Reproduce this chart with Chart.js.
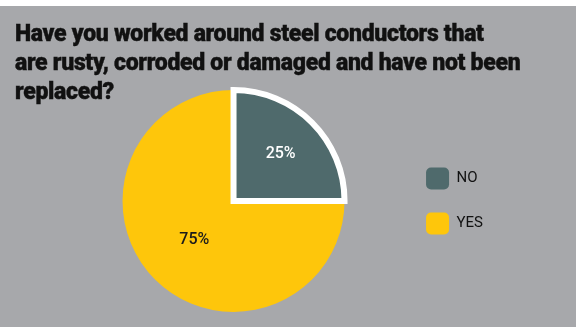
<!DOCTYPE html>
<html lang="en">
<head>
  <meta charset="UTF-8">
  <title>Steel conductors survey</title>
  <script src="https://cdn.jsdelivr.net/npm/chart.js@4.4.1/dist/chart.umd.min.js"></script>
  <style>
    body { margin: 0; background: #ffffff; }
    .panel { position: relative; width: 576px; height: 321px; margin-top: 6px; background: #a7a8ab; overflow: hidden; }
    .panel h1 {
      position: absolute; left: 15px; top: 13px; margin: 0;
      font-family: Roboto, "Noto Sans", sans-serif; font-weight: 900;
      font-size: 23px; line-height: 29px; letter-spacing: -0.3px; color: #111111;
      -webkit-text-stroke: 0.4px #111111;
      z-index: 1;
    }
    .panel canvas { position: absolute; left: 0; top: 0; }
  </style>
</head>
<body>
  <div class="panel">
    <h1>Have you worked around steel conductors that<br>are rusty, corroded or damaged and have not been<br>replaced?</h1>
    <canvas id="pie" width="576" height="321"></canvas>
  </div>

  <script>
    // drawn YES first so the NO slice and its white edge sit on top
    const answers = ['YES', 'NO'];
    const shares = [75, 25];
    const sliceColors = ['#fec60b', '#4f6a6c'];
    const labelColors = ['#1b1b1b', '#ffffff'];

    // percentage text inside each slice
    const sliceLabels = {
      id: 'sliceLabels',
      afterDatasetsDraw(chart) {
        const ctx = chart.ctx;
        const meta = chart.getDatasetMeta(0);
        const depth = [0.5, 0.6];
        ctx.save();
        ctx.font = '500 16px Roboto, sans-serif';
        ctx.textAlign = 'center';
        ctx.textBaseline = 'middle';
        meta.data.forEach((arc, i) => {
          const p = arc.getProps(['x', 'y', 'startAngle', 'endAngle', 'outerRadius'], true);
          const mid = (p.startAngle + p.endAngle) / 2;
          const r = p.outerRadius * depth[i];
          ctx.fillStyle = labelColors[i];
          ctx.fillText(shares[i] + '%', p.x + Math.cos(mid) * r, p.y + Math.sin(mid) * r);
        });
        ctx.restore();
      }
    };

    const pieChart = new Chart(document.getElementById('pie'), {
      type: 'pie',
      data: {
        labels: answers,
        datasets: [{
          data: shares,
          backgroundColor: sliceColors,
          borderColor: '#ffffff',
          borderWidth: [0, 6],
          borderAlign: 'center',
          borderJoinStyle: 'miter'
        }]
      },
      options: {
        responsive: false,
        animation: false,
        events: [],
        rotation: 90,
        radius: 111,
        layout: { padding: { left: 64, top: 84, bottom: 15, right: 83 } },
        plugins: {
          tooltip: { enabled: false },
          legend: {
            position: 'right',
            reverse: true,
            labels: {
              boxWidth: 23,
              boxHeight: 22,
              useBorderRadius: true,
              borderRadius: 5,
              padding: 23,
              color: '#111111',
              font: { family: 'Roboto, sans-serif', size: 15 },
              generateLabels(chart) {
                const items = Chart.overrides.pie.plugins.legend.labels.generateLabels(chart);
                items.forEach(item => { item.lineWidth = 0; });
                return items;
              }
            }
          }
        }
      },
      plugins: [sliceLabels]
    });
  </script>
</body>
</html>
